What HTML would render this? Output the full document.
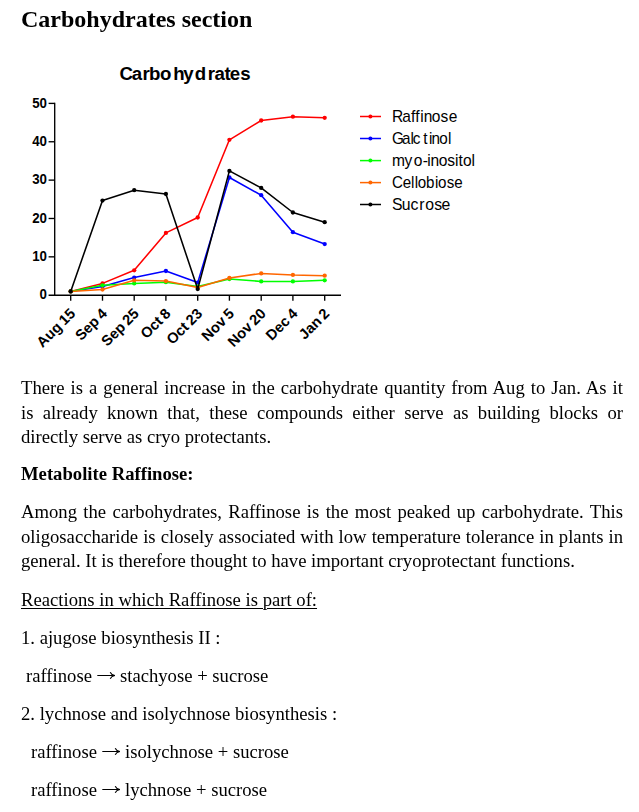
<!DOCTYPE html>
<html><head><meta charset="utf-8"><title>Carbohydrates section</title>
<style>
html,body{margin:0;padding:0;background:#fff;}
body{width:639px;height:812px;position:relative;overflow:hidden;font-family:"Liberation Serif",serif;color:#000;}
.l{position:absolute;will-change:transform;white-space:nowrap;font-size:18.67px;line-height:24px;height:24px;}
.j{width:602px;white-space:normal;text-align:justify;text-align-last:justify;}
.b{font-weight:bold;}
.h{font-weight:bold;font-size:24px;line-height:30px;height:30px;}
.ar{display:inline-block;vertical-align:1.8px;overflow:visible}
.u{text-decoration:underline;text-decoration-thickness:1px;text-underline-offset:2px;}
</style></head><body>
<svg width="639" height="370" viewBox="0 0 639 370" style="position:absolute;left:0;top:0">
<g stroke="#000" stroke-width="1.35" fill="none">
<line x1="54.7" y1="102.73" x2="54.7" y2="295.87"/>
<line x1="48.6" y1="295.20" x2="341" y2="295.20"/>
<line x1="48.6" y1="256.84" x2="54.7" y2="256.84"/>
<line x1="48.6" y1="218.48" x2="54.7" y2="218.48"/>
<line x1="48.6" y1="180.12" x2="54.7" y2="180.12"/>
<line x1="48.6" y1="141.76" x2="54.7" y2="141.76"/>
<line x1="48.6" y1="103.40" x2="54.7" y2="103.40"/>
<line x1="70.7" y1="295.20" x2="70.7" y2="300.70"/>
<line x1="102.5" y1="295.20" x2="102.5" y2="300.70"/>
<line x1="134.2" y1="295.20" x2="134.2" y2="300.70"/>
<line x1="165.9" y1="295.20" x2="165.9" y2="300.70"/>
<line x1="197.7" y1="295.20" x2="197.7" y2="300.70"/>
<line x1="229.4" y1="295.20" x2="229.4" y2="300.70"/>
<line x1="261.2" y1="295.20" x2="261.2" y2="300.70"/>
<line x1="292.9" y1="295.20" x2="292.9" y2="300.70"/>
<line x1="324.7" y1="295.20" x2="324.7" y2="300.70"/>
</g>
<polyline points="70.7,291.4 102.5,283.4 134.2,270.3 165.9,232.9 197.7,217.5 229.4,139.8 261.2,120.5 292.9,116.7 324.7,117.8" fill="none" stroke="#ff0000" stroke-width="1.55" stroke-linejoin="round"/>
<circle cx="70.7" cy="291.4" r="2.15" fill="#ff0000"/>
<circle cx="102.5" cy="283.4" r="2.15" fill="#ff0000"/>
<circle cx="134.2" cy="270.3" r="2.15" fill="#ff0000"/>
<circle cx="165.9" cy="232.9" r="2.15" fill="#ff0000"/>
<circle cx="197.7" cy="217.5" r="2.15" fill="#ff0000"/>
<circle cx="229.4" cy="139.8" r="2.15" fill="#ff0000"/>
<circle cx="261.2" cy="120.5" r="2.15" fill="#ff0000"/>
<circle cx="292.9" cy="116.7" r="2.15" fill="#ff0000"/>
<circle cx="324.7" cy="117.8" r="2.15" fill="#ff0000"/>
<polyline points="70.7,291.4 102.5,286.4 134.2,277.6 165.9,271.0 197.7,282.6 229.4,177.5 261.2,195.2 292.9,232.2 324.7,244.1" fill="none" stroke="#0000ff" stroke-width="1.55" stroke-linejoin="round"/>
<circle cx="70.7" cy="291.4" r="2.15" fill="#0000ff"/>
<circle cx="102.5" cy="286.4" r="2.15" fill="#0000ff"/>
<circle cx="134.2" cy="277.6" r="2.15" fill="#0000ff"/>
<circle cx="165.9" cy="271.0" r="2.15" fill="#0000ff"/>
<circle cx="197.7" cy="282.6" r="2.15" fill="#0000ff"/>
<circle cx="229.4" cy="177.5" r="2.15" fill="#0000ff"/>
<circle cx="261.2" cy="195.2" r="2.15" fill="#0000ff"/>
<circle cx="292.9" cy="232.2" r="2.15" fill="#0000ff"/>
<circle cx="324.7" cy="244.1" r="2.15" fill="#0000ff"/>
<polyline points="70.7,291.4 102.5,285.3 134.2,283.4 165.9,282.2 197.7,286.4 229.4,279.1 261.2,281.4 292.9,281.4 324.7,280.3" fill="none" stroke="#00ff00" stroke-width="1.55" stroke-linejoin="round"/>
<circle cx="70.7" cy="291.4" r="2.15" fill="#00ff00"/>
<circle cx="102.5" cy="285.3" r="2.15" fill="#00ff00"/>
<circle cx="134.2" cy="283.4" r="2.15" fill="#00ff00"/>
<circle cx="165.9" cy="282.2" r="2.15" fill="#00ff00"/>
<circle cx="197.7" cy="286.4" r="2.15" fill="#00ff00"/>
<circle cx="229.4" cy="279.1" r="2.15" fill="#00ff00"/>
<circle cx="261.2" cy="281.4" r="2.15" fill="#00ff00"/>
<circle cx="292.9" cy="281.4" r="2.15" fill="#00ff00"/>
<circle cx="324.7" cy="280.3" r="2.15" fill="#00ff00"/>
<polyline points="70.7,291.4 102.5,289.5 134.2,280.3 165.9,281.1 197.7,287.6 229.4,278.0 261.2,273.4 292.9,274.9 324.7,275.7" fill="none" stroke="#ff6600" stroke-width="1.55" stroke-linejoin="round"/>
<circle cx="70.7" cy="291.4" r="2.15" fill="#ff6600"/>
<circle cx="102.5" cy="289.5" r="2.15" fill="#ff6600"/>
<circle cx="134.2" cy="280.3" r="2.15" fill="#ff6600"/>
<circle cx="165.9" cy="281.1" r="2.15" fill="#ff6600"/>
<circle cx="197.7" cy="287.6" r="2.15" fill="#ff6600"/>
<circle cx="229.4" cy="278.0" r="2.15" fill="#ff6600"/>
<circle cx="261.2" cy="273.4" r="2.15" fill="#ff6600"/>
<circle cx="292.9" cy="274.9" r="2.15" fill="#ff6600"/>
<circle cx="324.7" cy="275.7" r="2.15" fill="#ff6600"/>
<polyline points="70.7,291.4 102.5,200.6 134.2,190.2 165.9,194.0 197.7,289.1 229.4,170.9 261.2,187.9 292.9,212.5 324.7,222.2" fill="none" stroke="#000000" stroke-width="1.55" stroke-linejoin="round"/>
<circle cx="70.7" cy="291.4" r="2.15" fill="#000000"/>
<circle cx="102.5" cy="200.6" r="2.15" fill="#000000"/>
<circle cx="134.2" cy="190.2" r="2.15" fill="#000000"/>
<circle cx="165.9" cy="194.0" r="2.15" fill="#000000"/>
<circle cx="197.7" cy="289.1" r="2.15" fill="#000000"/>
<circle cx="229.4" cy="170.9" r="2.15" fill="#000000"/>
<circle cx="261.2" cy="187.9" r="2.15" fill="#000000"/>
<circle cx="292.9" cy="212.5" r="2.15" fill="#000000"/>
<circle cx="324.7" cy="222.2" r="2.15" fill="#000000"/>
<g font-family="Liberation Sans, sans-serif" font-weight="bold" font-size="14.3" fill="#000">
<text transform="translate(47,299.0) scale(0.93,1)" text-anchor="end">0</text>
<text transform="translate(47,260.8) scale(0.93,1)" text-anchor="end">10</text>
<text transform="translate(47,222.6) scale(0.93,1)" text-anchor="end">20</text>
<text transform="translate(47,184.4) scale(0.93,1)" text-anchor="end">30</text>
<text transform="translate(47,146.2) scale(0.93,1)" text-anchor="end">40</text>
<text transform="translate(47,108.0) scale(0.93,1)" text-anchor="end">50</text>
<text transform="translate(76.3,314.5) rotate(-45)" text-anchor="end" font-size="14.67" word-spacing="-1.2">Aug 15</text>
<text transform="translate(108.0,314.5) rotate(-45)" text-anchor="end" font-size="14.67" word-spacing="-1.2">Sep 4</text>
<text transform="translate(139.8,314.5) rotate(-45)" text-anchor="end" font-size="14.67" word-spacing="-1.2">Sep 25</text>
<text transform="translate(171.5,314.5) rotate(-45)" text-anchor="end" font-size="14.67" word-spacing="-1.2">Oct 8</text>
<text transform="translate(203.3,314.5) rotate(-45)" text-anchor="end" font-size="14.67" word-spacing="-1.2">Oct 23</text>
<text transform="translate(235.0,314.5) rotate(-45)" text-anchor="end" font-size="14.67" word-spacing="-1.2">Nov 5</text>
<text transform="translate(266.8,314.5) rotate(-45)" text-anchor="end" font-size="14.67" word-spacing="-1.2">Nov 20</text>
<text transform="translate(298.6,314.5) rotate(-45)" text-anchor="end" font-size="14.67" word-spacing="-1.2">Dec 4</text>
<text transform="translate(330.3,314.5) rotate(-45)" text-anchor="end" font-size="14.67" word-spacing="-1.2">Jan 2</text>
</g>
<text x="119.46 131.63 142.61 149.06 160.06 173.35 183.26 194.74 207.63 214.39 224.57 229.87 240.15" y="80.3" font-family="Liberation Sans, sans-serif" font-weight="bold" font-size="18.67" fill="#000">Carbohydrates</text>
<g font-family="Liberation Sans, sans-serif" font-size="16" fill="#000">
<line x1="360" y1="116.5" x2="381" y2="116.5" stroke="#ff0000" stroke-width="1.5"/>
<circle cx="370.4" cy="116.5" r="2" fill="#ff0000"/>
<text transform="translate(392,121.8) scale(0.9701,1)" x="0.00 10.52 19.73 23.89 29.05 32.61 41.09 49.89 58.41" y="0">Raffinose</text>
<line x1="360" y1="138.5" x2="381" y2="138.5" stroke="#0000ff" stroke-width="1.5"/>
<circle cx="370.4" cy="138.5" r="2" fill="#0000ff"/>
<text transform="translate(392,143.8) scale(0.9542,1)" x="0.00 10.55 19.45 21.85 32.79 38.81 41.41 49.49 58.69" y="0">Galctinol</text>
<line x1="360" y1="160.6" x2="381" y2="160.6" stroke="#00ff00" stroke-width="1.5"/>
<circle cx="370.4" cy="160.6" r="2" fill="#00ff00"/>
<text transform="translate(392,165.9) scale(0.9724,1)" x="0.00 12.92 22.46 31.66 36.17 39.52 48.10 56.91 64.91 68.45 72.91 81.80" y="0">myo-inositol</text>
<line x1="360" y1="182.6" x2="381" y2="182.6" stroke="#ff6600" stroke-width="1.5"/>
<circle cx="370.4" cy="182.6" r="2" fill="#ff6600"/>
<text transform="translate(392,187.9) scale(0.9475,1)" x="0.00 11.23 20.13 24.00 27.14 35.92 45.36 48.59 57.81 65.81" y="0">Cellobiose</text>
<line x1="360" y1="204.5" x2="381" y2="204.5" stroke="#000000" stroke-width="1.5"/>
<circle cx="370.4" cy="204.5" r="2" fill="#000000"/>
<text transform="translate(392,209.8) scale(0.9881,1)" x="0.00 9.96 18.85 27.46 33.70 42.81 50.20" y="0">Sucrose</text>
</g>
</svg>
<div class="l h" style="left:21px;top:3.80px">Carbohydrates section</div>
<div class="l j" style="left:21px;top:375.70px">There is a general increase in the carbohydrate quantity from Aug to Jan. As it</div>
<div class="l j" style="left:21px;top:400.70px">is already known that, these compounds either serve as building blocks or</div>
<div class="l " style="left:21px;top:425.20px">directly serve as cryo protectants.</div>
<div class="l b" style="left:21px;top:462.30px">Metabolite Raffinose:</div>
<div class="l j" style="left:21px;top:500.30px">Among the carbohydrates, Raffinose is the most peaked up carbohydrate. This</div>
<div class="l j" style="left:21px;top:525.30px">oligosaccharide is closely associated with low temperature tolerance in plants in</div>
<div class="l " style="left:21px;top:549.40px">general. It is therefore thought to have important cryoprotectant functions.</div>
<div class="l u" style="left:21px;top:588.20px">Reactions in which Raffinose is part of:</div>
<div class="l " style="left:21px;top:625.70px">1. ajugose biosynthesis II :</div>
<div class="l " style="left:25.6px;top:663.70px">raffinose <svg class="ar" width="18.66" height="9" viewBox="0 0 18.66 9"><path d="M0.3,4.5 H17.4" stroke="#000" stroke-width="1" fill="none"/><path d="M13.2,1.2 C13.9,2.8 15.5,4.1 17.9,4.5 C15.5,4.9 13.9,6.2 13.2,7.8" stroke="#000" stroke-width="1.1" fill="none" stroke-linejoin="miter"/></svg> stachyose + sucrose</div>
<div class="l " style="left:21px;top:701.70px">2. lychnose and isolychnose biosynthesis :</div>
<div class="l " style="left:31px;top:739.70px">raffinose <svg class="ar" width="18.66" height="9" viewBox="0 0 18.66 9"><path d="M0.3,4.5 H17.4" stroke="#000" stroke-width="1" fill="none"/><path d="M13.2,1.2 C13.9,2.8 15.5,4.1 17.9,4.5 C15.5,4.9 13.9,6.2 13.2,7.8" stroke="#000" stroke-width="1.1" fill="none" stroke-linejoin="miter"/></svg> isolychnose + sucrose</div>
<div class="l " style="left:31px;top:777.70px">raffinose <svg class="ar" width="18.66" height="9" viewBox="0 0 18.66 9"><path d="M0.3,4.5 H17.4" stroke="#000" stroke-width="1" fill="none"/><path d="M13.2,1.2 C13.9,2.8 15.5,4.1 17.9,4.5 C15.5,4.9 13.9,6.2 13.2,7.8" stroke="#000" stroke-width="1.1" fill="none" stroke-linejoin="miter"/></svg> lychnose + sucrose</div>
</body></html>
